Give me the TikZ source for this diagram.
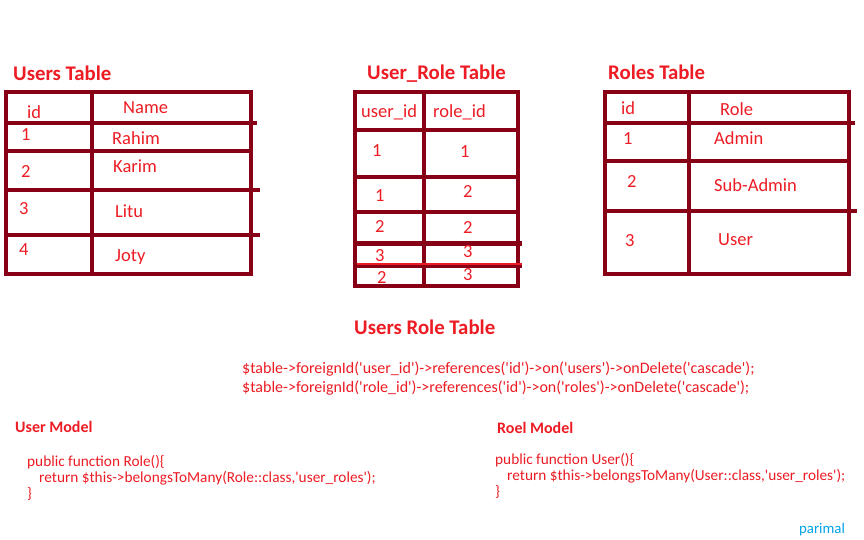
\documentclass[tikz,border=0pt]{standalone}
\usepackage{fontspec}
\setmainfont{Carlito}
\newfontfamily\codefont{Carlito}
\usetikzlibrary{positioning}
\definecolor{darkred}{RGB}{136,0,21}
\definecolor{paintred}{RGB}{237,28,36}
\definecolor{paintblue}{RGB}{0,162,232}
\tikzset{
  grid/.style={draw=darkred, line width=4.6pt},
  title/.style={anchor=base west, inner sep=0pt, text=paintred, font=\fontsize{20.8}{24}\selectfont\bfseries},
  cell/.style={anchor=base west, inner sep=0pt, text=paintred, font=\fontsize{18.5}{22}\selectfont},
  code/.style={anchor=base west, inner sep=0pt, text=paintred, font=\codefont\fontsize{15.3}{19}\selectfont},
  fkcode/.style={code, font=\codefont\fontsize{16}{19}\selectfont},
  head/.style={anchor=base west, inner sep=0pt, text=paintred, font=\fontsize{16}{19}\selectfont\bfseries},
}
\begin{document}
\begin{tikzpicture}[x=1pt, y=-1pt]
  \useasboundingbox[fill=white] (0,0) rectangle (864,540);

  % Users table
  \node[title] (usersT) at (13,81) {Users Table};
  \draw[grid] (6,92) rectangle (251,274);
  \draw[grid] (92,92) -- (92,274);
  \draw[grid] (6,123) -- (257,123);
  \draw[grid] (6,151) -- (251,151);
  \draw[grid] (6,190) -- (260,190);
  \draw[grid] (6,235) -- (260,235);
  \node[cell] (uid) at (27,119) {id};
  \node[cell] (uname) at (123,114) {Name};
  \node[cell] (u1) at (21,141) {1};
  \node[cell] (u1n) at (112,145) {Rahim};
  \node[cell] (u2) at (21,178) {2};
  \node[cell] (u2n) at (113,173) {Karim};
  \node[cell] (u3) at (19,214) {3};
  \node[cell] (u3n) at (115,218) {Litu};
  \node[cell] (u4) at (19,255) {4};
  \node[cell] (u4n) at (115,261) {Joty};

  % User_Role table
  \node[title] (pivotT) at (367,80) {User\_Role Table};
  \draw[grid] (355,92) rectangle (518,286);
  \draw[grid] (424,92) -- (424,286);
  \draw[grid] (355,130) -- (518,130);
  \draw[grid] (355,177) -- (516,177);
  \draw[grid] (355,212) -- (518,212);
  \draw[grid] (355,243.5) -- (522,243.5);
  \draw[grid] (355,265.5) -- (522,265.5);
  \draw[paintred, line width=1.6pt] (357,263.8) -- (522,263.8);
  \node[cell] (puid) at (361,118) {user\_id};
  \node[cell] (prid) at (433,118) {role\_id};
  \node[cell] (p1u) at (372,157) {1};
  \node[cell] (p1r) at (460,158) {1};
  \node[cell] (p2u) at (375,201) {1};
  \node[cell] (p2r) at (463,197) {2};
  \node[cell] (p3u) at (375,232) {2};
  \node[cell] (p3r) at (463,233) {2};
  \node[cell] (p4u) at (375,261) {3};
  \node[cell] (p4r) at (463,257) {3};
  \node[cell] (p5u) at (377,283) {2};
  \node[cell] (p5r) at (463,280) {3};

  % Roles table
  \node[title] (rolesT) at (608,80) {Roles Table};
  \draw[grid] (605,92) rectangle (849,274);
  \draw[grid] (689,92) -- (689,274);
  \draw[grid] (605,123) -- (855,123);
  \draw[grid] (605,161) -- (847,161);
  \draw[grid] (605,211) -- (857,211);
  \node[cell] (rid) at (621,115) {id};
  \node[cell] (rrole) at (720,116) {Role};
  \node[cell] (r1) at (623,145) {1};
  \node[cell] (r1n) at (714,145) {Admin};
  \node[cell] (r2) at (627,187) {2};
  \node[cell] (r2n) at (714,192) {Sub-Admin};
  \node[cell] (r3) at (625,246) {3};
  \node[cell] (r3n) at (718,245) {User};

  % migration
  \node[title] (pivotM) at (354,334) {Users Role Table};
  \node[fkcode] (fk1) at (242,373) {\$table->foreignId('user\_id')->references('id')->on('users')->onDelete('cascade');};
  \node[fkcode] (fk2) at (242,392) {\$table->foreignId('role\_id')->references('id')->on('roles')->onDelete('cascade');};

  % models
  \node[head] (userM) at (15,432) {User Model};
  \node[code] (um1) at (27,466) {public function Role()\{};
  \node[code] (um2) at (39,482) {return \$this->belongsToMany(Role::class,'user\_roles');};
  \node[code] (um3) at (27,498) {\}};
  \node[head] (roleM) at (497,433) {Roel Model};
  \node[code] (rm1) at (495,464) {public function User()\{};
  \node[code] (rm2) at (507,480) {return \$this->belongsToMany(User::class,'user\_roles');};
  \node[code] (rm3) at (495,496) {\}};
  \node[anchor=base west, inner sep=0pt, text=paintblue, font=\fontsize{14.8}{17}\selectfont] (sign) at (799,533) {parimal};
\end{tikzpicture}
\end{document}
